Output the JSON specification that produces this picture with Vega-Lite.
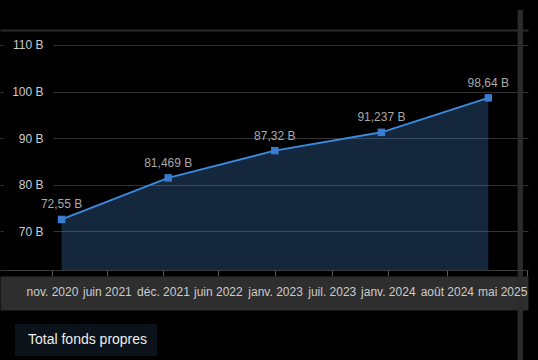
{
  "$schema": "https://vega.github.io/schema/vega-lite/v6.json",
  "width": 528,
  "height": 240,
  "autosize": "none",
  "padding": {"left": 0, "top": 30, "right": 10, "bottom": 90},
  "background": "#000000",
  "config": {
    "view": {"stroke": null},
    "font": "Liberation Sans",
    "axis": {"labelFont": "Liberation Sans", "titleFont": "Liberation Sans"}
  },
  "data": {
    "values": [
      {"date": "2020-12-31T00:00:00", "value": 72.55, "series": "Total fonds propres"},
      {"date": "2021-12-31T00:00:00", "value": 81.469, "series": "Total fonds propres"},
      {"date": "2022-12-31T00:00:00", "value": 87.32, "series": "Total fonds propres"},
      {"date": "2023-12-31T00:00:00", "value": 91.237, "series": "Total fonds propres"},
      {"date": "2024-12-31T00:00:00", "value": 98.64, "series": "Total fonds propres"}
    ]
  },
  "resolve": {"axis": {"x": "independent"}},
  "layer": [
    {
      "mark": {"type": "area", "color": "#4a90e2", "opacity": 0.27},
      "encoding": {
        "x": {
          "field": "date", "type": "temporal",
          "scale": {"domain": [{"year": 2020, "month": 6, "date": 3}, {"year": 2025, "month": 5, "date": 16}], "nice": false},
          "axis": {"orient": "bottom", "title": null, "labels": false, "ticks": false, "grid": false, "domain": true, "domainWidth": 34, "domainColor": "#2e2e2e", "domainCap": "butt", "offset": 23, "zindex": 0}
        },
        "y": {
          "field": "value", "type": "quantitative",
          "scale": {"domain": [61.7, 113.2], "nice": false, "zero": false},
          "axis": {"title": null, "values": [70, 80, 90, 100, 110], "labelExpr": "datum.value + ' B'", "domain": false, "ticks": false, "grid": true, "gridColor": "#333333", "gridWidth": 1, "gridDash": [3, 50, 2000], "labelPadding": -43, "labelAlign": "right", "labelFontSize": 12, "labelColor": "#cccccc", "labelFont": "Liberation Sans"}
        },
        "y2": {"datum": 61.7}
      }
    },
    {
      "mark": {"type": "line", "strokeWidth": 2},
      "encoding": {
        "x": {
          "field": "date", "type": "temporal",
          "scale": {"domain": [{"year": 2020, "month": 6, "date": 3}, {"year": 2025, "month": 5, "date": 16}], "nice": false},
          "axis": {
            "orient": "bottom", "title": null, "grid": false,
            "values": [
              {"year": 2020, "month": 11, "date": 28},
              {"year": 2021, "month": 6, "date": 4},
              {"year": 2021, "month": 12, "date": 13},
              {"year": 2022, "month": 6, "date": 19},
              {"year": 2023, "month": 1, "date": 1},
              {"year": 2023, "month": 7, "date": 14},
              {"year": 2024, "month": 1, "date": 22},
              {"year": 2024, "month": 8, "date": 11},
              {"year": 2025, "month": 5, "date": 12}
            ],
            "labelExpr": "['janv.','févr.','mars','avr.','mai','juin','juil.','août','sept.','oct.','nov.','déc.'][month(datum.value)] + ' ' + year(datum.value)",
            "labelFlush": 5, "labelOverlap": false,
            "domain": true, "domainColor": "#3a3a3a", "domainWidth": 1,
            "ticks": true, "tickSize": 6, "tickColor": "#555555", "tickWidth": 1,
            "labelPadding": 10, "labelFontSize": 12, "labelColor": "#cccccc", "labelFont": "Liberation Sans", "zindex": 1
          }
        },
        "y": {"field": "value", "type": "quantitative", "scale": {"domain": [61.7, 113.2], "nice": false, "zero": false}},
        "color": {
          "field": "series", "type": "nominal",
          "scale": {"range": ["#3b8ae0"]},
          "legend": {"orient": "none", "legendX": 15, "legendY": 294, "title": null, "fillColor": "#0b1219", "padding": 9, "symbolType": "square", "symbolSize": 0, "symbolOpacity": 0, "symbolStrokeWidth": 0, "labelOffset": -10, "labelFontSize": 14, "labelColor": "#eeeeee", "labelFont": "Liberation Sans", "labelLimit": 300}
        }
      }
    },
    {
      "mark": {"type": "point", "shape": "square", "filled": true, "size": 56, "color": "#3a7cd0", "opacity": 1},
      "encoding": {
        "x": {
          "field": "date", "type": "temporal",
          "scale": {"domain": [{"year": 2020, "month": 6, "date": 3}, {"year": 2025, "month": 5, "date": 16}], "nice": false},
          "axis": {"orient": "top", "title": null, "labels": false, "ticks": false, "grid": false, "domain": true, "domainColor": "#2a2a2a", "domainWidth": 2}
        },
        "y": {"field": "value", "type": "quantitative", "scale": {"domain": [61.7, 113.2], "nice": false, "zero": false}}
      }
    },
    {
      "transform": [{"calculate": "replace(toString(datum.value), '.', ',') + ' B'", "as": "label"}],
      "mark": {"type": "text", "baseline": "bottom", "align": "center", "dy": -8, "fontSize": 12, "color": "#a8a8a8", "font": "Liberation Sans"},
      "encoding": {
        "x": {
          "field": "date", "type": "temporal",
          "scale": {"domain": [{"year": 2020, "month": 6, "date": 3}, {"year": 2025, "month": 5, "date": 16}], "nice": false},
          "axis": null
        },
        "y": {"field": "value", "type": "quantitative", "scale": {"domain": [61.7, 113.2], "nice": false, "zero": false}},
        "text": {"field": "label"}
      }
    },
    {
      "mark": {"type": "rule", "strokeWidth": 5, "color": "#2b2b2b"},
      "encoding": {
        "x": {
          "datum": {"year": 2025, "month": 4, "date": 20}, "type": "temporal",
          "scale": {"domain": [{"year": 2020, "month": 6, "date": 3}, {"year": 2025, "month": 5, "date": 16}], "nice": false},
          "axis": null
        },
        "y": {"datum": 117.5, "type": "quantitative", "scale": {"domain": [61.7, 113.2], "nice": false, "zero": false}},
        "y2": {"datum": 40}
      }
    }
  ]
}
